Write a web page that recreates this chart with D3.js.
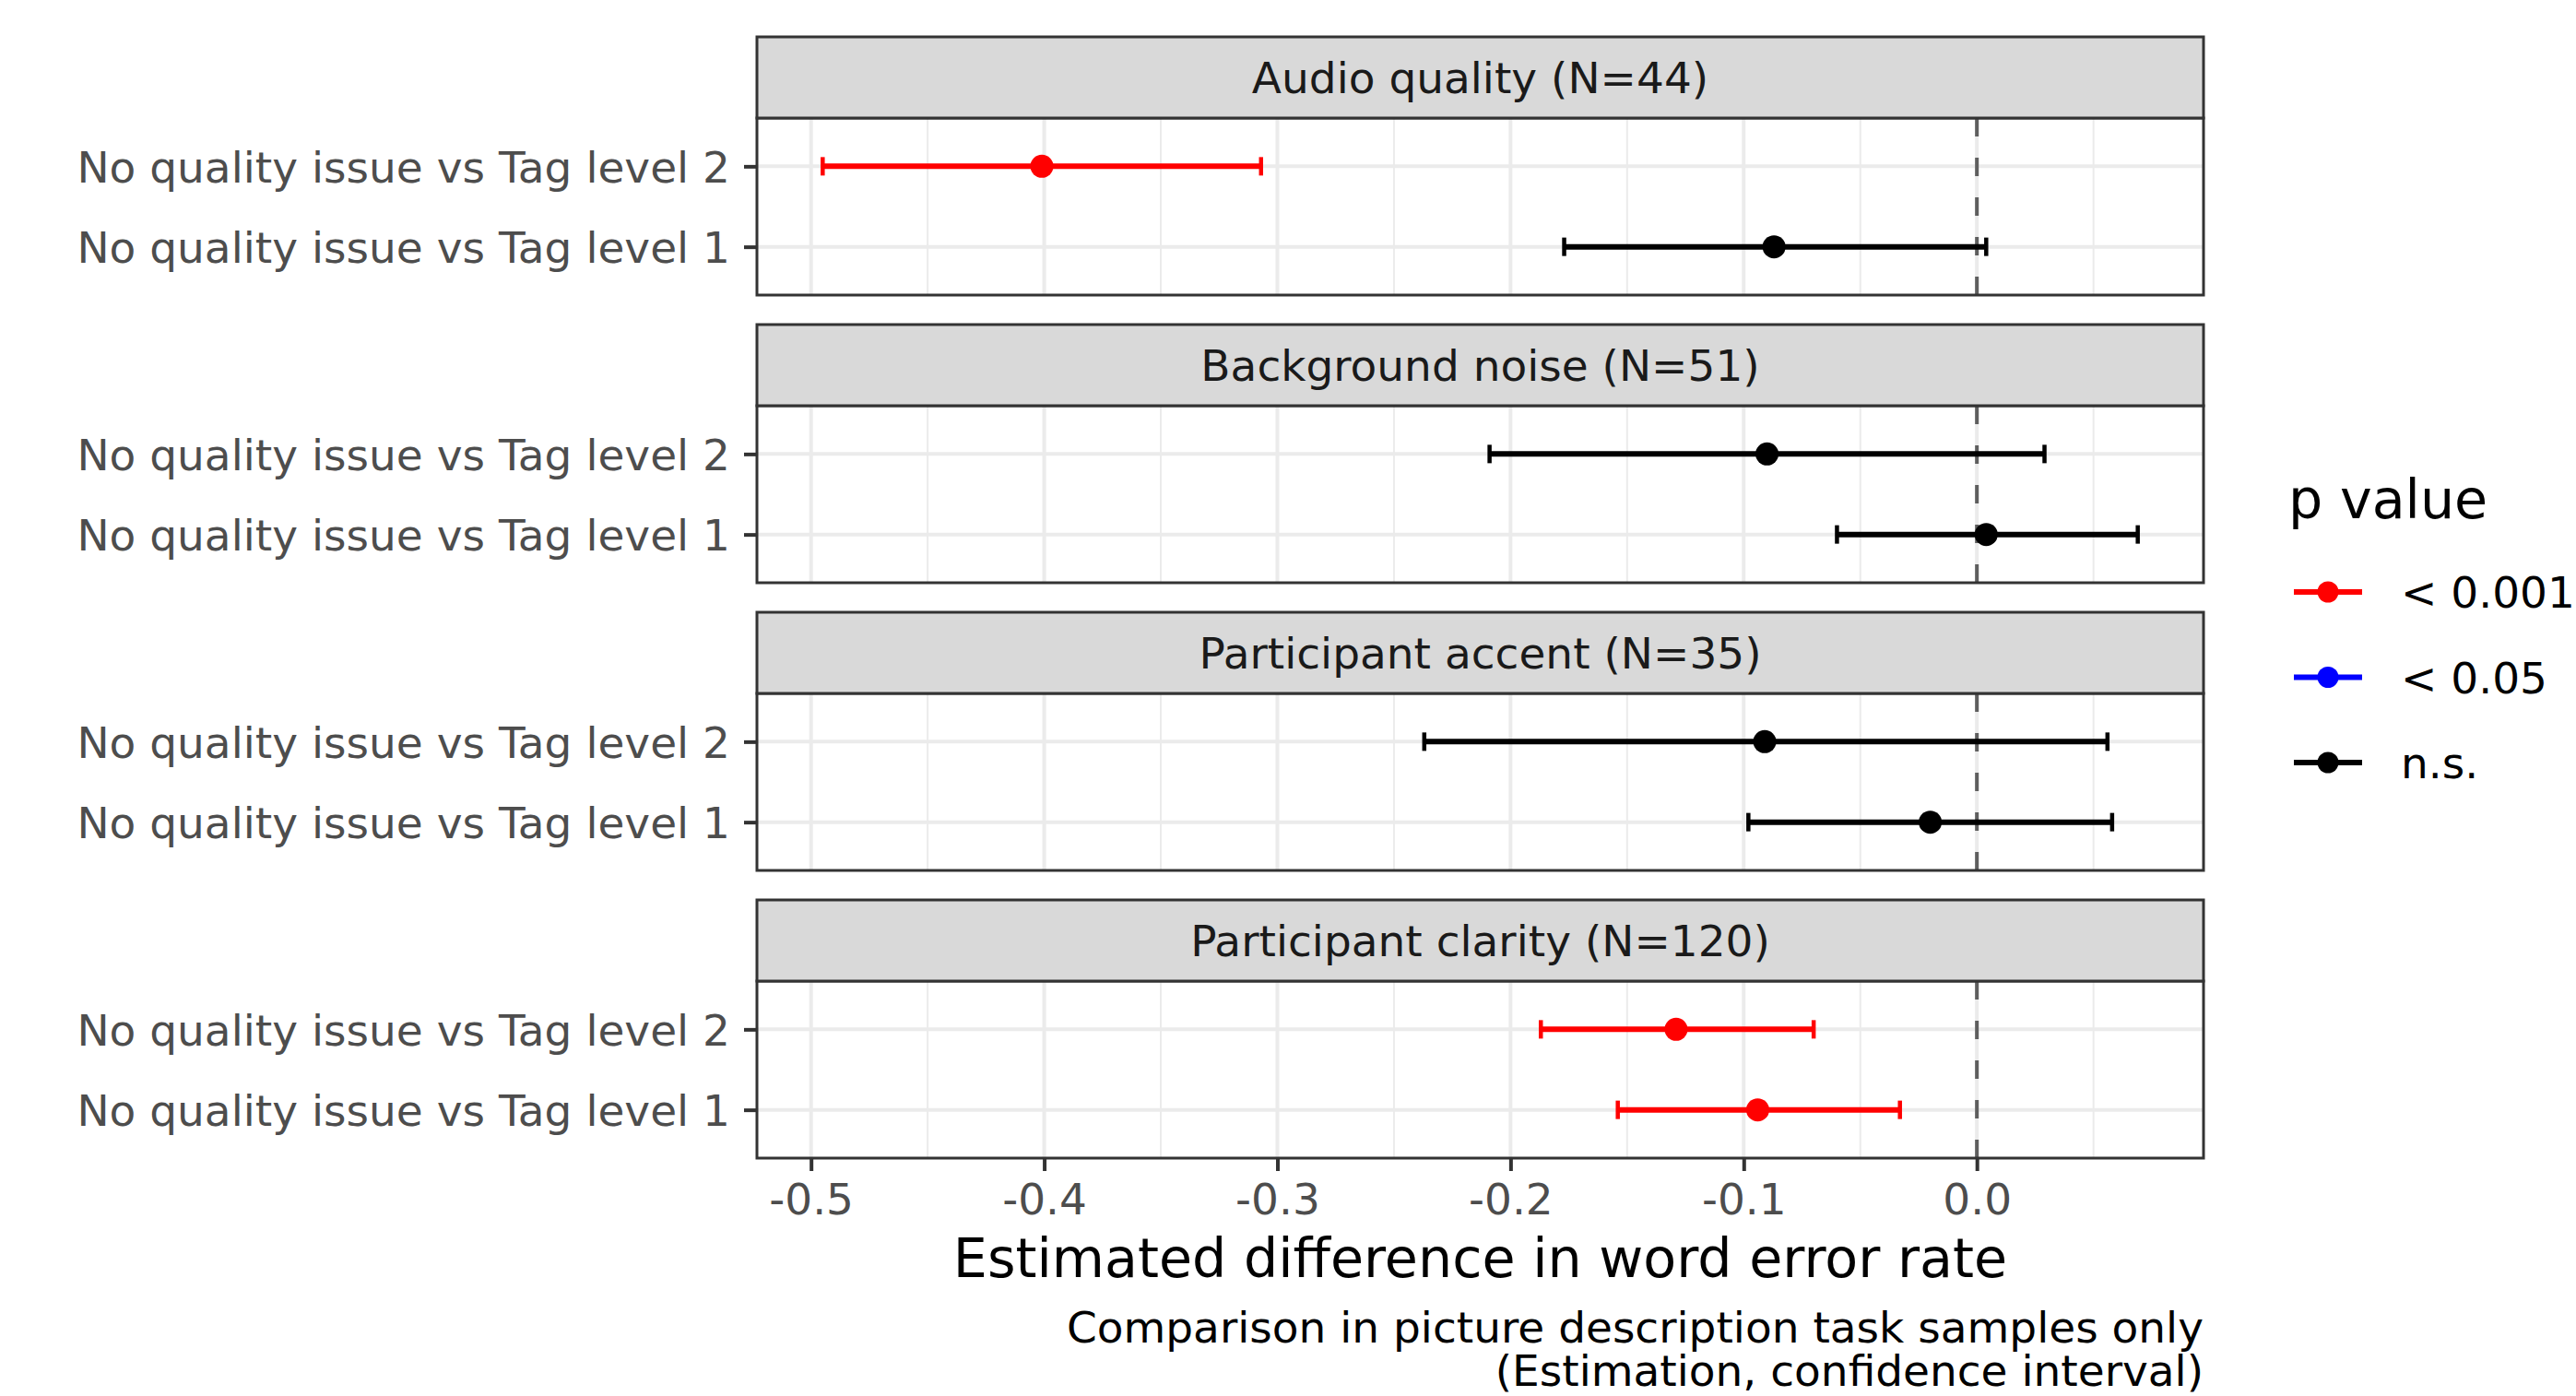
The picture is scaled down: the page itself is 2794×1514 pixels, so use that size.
<!DOCTYPE html>
<html>
<head>
<meta charset="utf-8">
<script src="https://cdn.jsdelivr.net/npm/d3@7"></script>
<style>
  html, body { margin: 0; padding: 0; background: #fff; }
  svg { display: block; font-family: "DejaVu Sans", sans-serif; }
</style>
</head>
<body>
<svg id="chart" width="2794" height="1514"></svg>
<script>
// ---- data ----
const facets = ["Audio quality (N=44)", "Background noise (N=51)", "Participant accent (N=35)", "Participant clarity (N=120)"];
const comparisons = ["No quality issue vs Tag level 2", "No quality issue vs Tag level 1"];
// per facet: [level 2, level 1]
const estimates = [[-0.401, -0.087], [-0.090, 0.004], [-0.091, -0.020], [-0.129, -0.094]];
const lowerCI   = [[-0.495, -0.177], [-0.209, -0.060], [-0.237, -0.098], [-0.187, -0.154]];
const upperCI   = [[-0.307, 0.004], [0.029, 0.069], [0.056, 0.058], [-0.070, -0.033]];
const pGroups   = [["< 0.001", "n.s."], ["n.s.", "n.s."], ["n.s.", "n.s."], ["< 0.001", "< 0.001"]];
const pLevels = ["< 0.001", "< 0.05", "n.s."];
const pColors = ["#FF0000", "#0000FF", "#000000"];
const xTicks = [-0.5, -0.4, -0.3, -0.2, -0.1, 0.0];
const xMinor = [-0.45, -0.35, -0.25, -0.15, -0.05, 0.05];
const xTitle = "Estimated difference in word error rate";
const captionLines = ["Comparison in picture description task samples only", "(Estimation, confidence interval)"];
const legendTitle = "p value";

// ---- layout ----
const svg = d3.select("#chart");
const panelLeft = 821, panelRight = 2390;
const firstTop = 40, period = 312, stripH = 88, bodyH = 192;
const smallFont = 47, bigFont = 58.7;

const allVals = lowerCI.flat().concat(upperCI.flat(), estimates.flat());
const lo = d3.min(allVals), hi = d3.max(allVals);
const pad = (hi - lo) * 0.05;
const x = d3.scaleLinear().domain([lo - pad, hi + pad]).range([panelLeft, panelRight]);
const color = d3.scaleOrdinal().domain(pLevels).range(pColors);

facets.forEach((f, i) => {
  const sTop = firstTop + i * period;
  const bTop = sTop + stripH, bBot = bTop + bodyH;
  const y = d3.scalePoint().domain(comparisons).range([bTop, bBot]).padding(0.6);
  const g = svg.append("g");

  g.append("rect").attr("x", panelLeft).attr("y", bTop).attr("width", panelRight - panelLeft).attr("height", bodyH).attr("fill", "#fff");

  g.selectAll(".minor").data(xMinor).join("line")
    .attr("x1", d => x(d)).attr("x2", d => x(d)).attr("y1", bTop).attr("y2", bBot)
    .attr("stroke", "#EBEBEB").attr("stroke-width", 2);
  g.selectAll(".majorx").data(xTicks).join("line")
    .attr("x1", d => x(d)).attr("x2", d => x(d)).attr("y1", bTop).attr("y2", bBot)
    .attr("stroke", "#EBEBEB").attr("stroke-width", 4);
  g.selectAll(".majory").data(comparisons).join("line")
    .attr("x1", panelLeft).attr("x2", panelRight).attr("y1", d => y(d)).attr("y2", d => y(d))
    .attr("stroke", "#EBEBEB").attr("stroke-width", 4);

  g.append("line").attr("x1", x(0)).attr("x2", x(0)).attr("y1", bTop).attr("y2", bBot)
    .attr("stroke", "#5E5E5E").attr("stroke-width", 4).attr("stroke-dasharray", "20,23");

  comparisons.forEach((c, j) => {
    const col = color(pGroups[i][j]);
    const yy = y(c);
    const cap = 10;
    g.append("line").attr("x1", x(lowerCI[i][j])).attr("x2", x(upperCI[i][j])).attr("y1", yy).attr("y2", yy)
      .attr("stroke", col).attr("stroke-width", 6);
    [lowerCI[i][j], upperCI[i][j]].forEach(v => {
      g.append("line").attr("x1", x(v)).attr("x2", x(v)).attr("y1", yy - cap).attr("y2", yy + cap)
        .attr("stroke", col).attr("stroke-width", 4.5);
    });
    g.append("circle").attr("cx", x(estimates[i][j])).attr("cy", yy).attr("r", 12.5).attr("fill", col);
  });

  g.append("rect").attr("x", panelLeft).attr("y", bTop).attr("width", panelRight - panelLeft).attr("height", bodyH)
    .attr("fill", "none").attr("stroke", "#333333").attr("stroke-width", 3);

  g.append("rect").attr("x", panelLeft).attr("y", sTop).attr("width", panelRight - panelLeft).attr("height", stripH)
    .attr("fill", "#D9D9D9").attr("stroke", "#333333").attr("stroke-width", 3);
  g.append("text").attr("x", (panelLeft + panelRight) / 2).attr("y", sTop + stripH / 2 + 17)
    .attr("text-anchor", "middle").attr("font-size", smallFont).attr("fill", "#1A1A1A").text(f);

  const ya = g.append("g").attr("transform", `translate(${panelLeft},0)`)
    .call(d3.axisLeft(y).tickSize(14).tickPadding(15));
  ya.select(".domain").remove();
  ya.selectAll(".tick line").attr("stroke", "#333333").attr("stroke-width", 4);
  ya.selectAll(".tick text").attr("font-size", smallFont).attr("fill", "#4D4D4D")
    .attr("font-family", "DejaVu Sans").attr("dy", "0.36em");

  if (i === facets.length - 1) {
    const xa = g.append("g").attr("transform", `translate(0,${bBot})`)
      .call(d3.axisBottom(x).tickValues(xTicks).tickFormat(d => d.toFixed(1)).tickSize(14).tickPadding(14));
    xa.select(".domain").remove();
    xa.selectAll(".tick line").attr("stroke", "#333333").attr("stroke-width", 4);
    xa.selectAll(".tick text").attr("font-size", smallFont).attr("fill", "#4D4D4D")
      .attr("font-family", "DejaVu Sans").attr("dy", "0.71em");
  }
});

svg.append("text").attr("x", (panelLeft + panelRight) / 2).attr("y", 1385)
  .attr("text-anchor", "middle").attr("font-size", bigFont).attr("fill", "#000").text(xTitle);

captionLines.forEach((t, k) => {
  svg.append("text").attr("x", panelRight).attr("y", 1456 + k * 47)
    .attr("text-anchor", "end").attr("font-size", smallFont).attr("fill", "#000").text(t);
});

const lg = svg.append("g");
lg.append("text").attr("x", 2482).attr("y", 562).attr("font-size", bigFont).attr("fill", "#000").text(legendTitle);
pLevels.forEach((p, k) => {
  const cy = 642 + k * 92.5;
  lg.append("line").attr("x1", 2488).attr("x2", 2562).attr("y1", cy).attr("y2", cy)
    .attr("stroke", color(p)).attr("stroke-width", 6);
  lg.append("circle").attr("cx", 2525).attr("cy", cy).attr("r", 11.5).attr("fill", color(p));
  lg.append("text").attr("x", 2604).attr("y", cy + 17).attr("font-size", smallFont).attr("fill", "#000").text(p);
});
</script>
</body>
</html>
